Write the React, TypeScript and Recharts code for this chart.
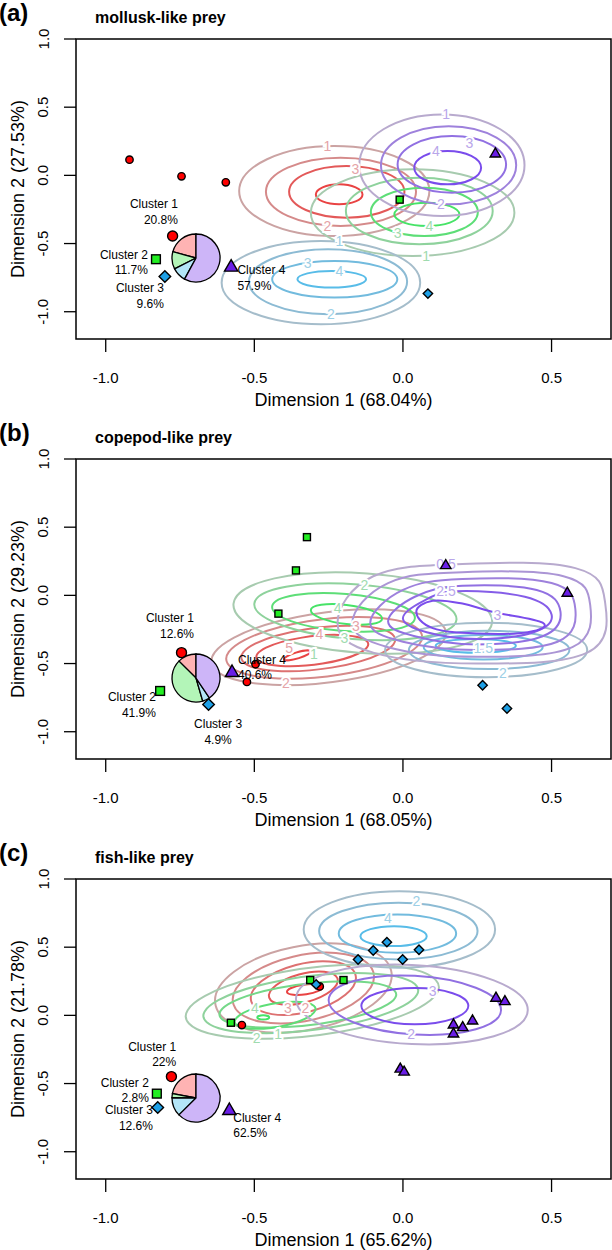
import { ComposedChart, Line, Scatter, XAxis, YAxis, ReferenceArea, PieChart, Pie, Cell } from 'recharts'

type P = [number, number]
type Pt = { x: number; y: number }
type Note = { x: number; y: number; t: string; c: number }
type Tag = { x: number; y: number; a: string }

const xTicks = [-1, -0.5, 0, 0.5]
const yTicks = [-1, -0.5, 0, 0.5, 1]
const clusterNames = ['Cluster 1', 'Cluster 2', 'Cluster 3', 'Cluster 4']

// ---------- (a) mollusk-like prey ----------
const aShare = [20.8, 11.7, 9.6, 57.9]
const aRed: P[][] = [
  [[-0.551, -0.115], [-0.231, 0.215], [0.089, -0.115], [-0.231, -0.445]],
  [[-0.461, -0.12], [-0.21, 0.13], [0.044, -0.12], [-0.21, -0.371]],
  [[-0.383, -0.12], [-0.19, 0.068], [0.005, -0.12], [-0.19, -0.31]],
  [[-0.293, -0.14], [-0.215, -0.066], [-0.136, -0.14], [-0.215, -0.212]],
]
const aGreen: P[][] = [
  [[-0.31, -0.274], [0.033, 0.044], [0.375, -0.274], [0.033, -0.591]],
  [[-0.192, -0.261], [0.055, -0.017], [0.302, -0.261], [0.055, -0.505]],
  [[-0.108, -0.268], [0.072, -0.09], [0.252, -0.268], [0.072, -0.445]],
  [[-0.029, -0.286], [0.081, -0.2], [0.19, -0.286], [0.081, -0.371]],
]
const aBlue: P[][] = [
  [[-0.61, -0.787], [-0.276, -0.481], [0.058, -0.787], [-0.276, -1.092]],
  [[-0.518, -0.78], [-0.252, -0.542], [0.014, -0.78], [-0.252, -1.018]],
  [[-0.44, -0.762], [-0.23, -0.628], [-0.019, -0.762], [-0.23, -0.896]],
  [[-0.355, -0.762], [-0.24, -0.701], [-0.124, -0.762], [-0.24, -0.823]],
]
const aPurple: P[][] = [
  [[-0.147, 0.075], [0.131, 0.447], [0.409, 0.075], [0.131, -0.298]],
  [[-0.074, 0.075], [0.154, 0.361], [0.381, 0.075], [0.154, -0.212]],
  [[-0.018, 0.08], [0.165, 0.288], [0.347, 0.08], [0.165, -0.127]],
  [[0.038, 0.056], [0.15, 0.178], [0.263, 0.056], [0.15, -0.066]],
]
const aNotes: Note[] = [
  { x: -0.254, y: 0.215, t: '1', c: 0 }, { x: -0.16, y: 0.05, t: '3', c: 0 }, { x: -0.254, y: -0.371, t: '2', c: 0 },
  { x: 0.089, y: -0.371, t: '4', c: 1 }, { x: -0.018, y: -0.42, t: '3', c: 1 }, { x: 0.078, y: -0.591, t: '1', c: 1 },
  { x: -0.214, y: -0.481, t: '1', c: 2 }, { x: -0.321, y: -0.64, t: '3', c: 2 }, { x: -0.214, y: -0.701, t: '4', c: 2 }, { x: -0.242, y: -1.018, t: '2', c: 2 },
  { x: 0.145, y: 0.447, t: '1', c: 3 }, { x: 0.224, y: 0.24, t: '3', c: 3 }, { x: 0.111, y: 0.178, t: '4', c: 3 }, { x: 0.128, y: -0.212, t: '2', c: 3 },
]
const aPts: Pt[][] = [
  [{ x: -0.92, y: 0.115 }, { x: -0.745, y: -0.007 }, { x: -0.596, y: -0.051 }],
  [{ x: -0.011, y: -0.178 }],
  [{ x: 0.084, y: -0.867 }],
  [{ x: 0.311, y: 0.161 }],
]
const aMarks: Pt[] = [{ x: -0.775, y: -0.445 }, { x: -0.831, y: -0.615 }, { x: -0.801, y: -0.742 }, { x: -0.578, y: -0.669 }]
const aTags: Tag[] = [
  { x: -0.757, y: -0.212, a: 'end' }, { x: -0.858, y: -0.579, a: 'end' },
  { x: -0.804, y: -0.828, a: 'end' }, { x: -0.557, y: -0.696, a: 'start' },
]

// ---------- (b) copepod-like prey ----------
const bShare = [12.6, 41.9, 4.9, 40.6]
const bRed: P[][] = [
  [[-0.64, -0.52], [-0.31, -0.14], [0.14, -0.24], [-0.19, -0.62]],
  [[-0.59, -0.5], [-0.32, -0.19], [0.06, -0.27], [-0.21, -0.58]],
  [[-0.54, -0.48], [-0.33, -0.25], [-0.03, -0.3], [-0.24, -0.53]],
  [[-0.49, -0.47], [-0.34, -0.31], [-0.12, -0.34], [-0.27, -0.5]],
  [[-0.4, -0.47], [-0.36, -0.42], [-0.31, -0.41], [-0.35, -0.46]],
]
const bGreen: P[][] = [
  [[-0.57, -0.06], [-0.12, 0.16], [0.3, -0.2], [-0.15, -0.42]],
  [[-0.5, -0.06], [-0.15, 0.08], [0.18, -0.18], [-0.17, -0.32]],
  [[-0.44, -0.08], [-0.19, 0.01], [0.04, -0.17], [-0.21, -0.26]],
  [[-0.31, -0.11], [-0.19, -0.07], [-0.07, -0.17], [-0.19, -0.21]],
]
const bBlue: P[][] = [
  [[-0.06, -0.4], [0.28, -0.2], [0.62, -0.4], [0.28, -0.6]],
  [[0.02, -0.4], [0.29, -0.26], [0.56, -0.4], [0.29, -0.54]],
  [[0.07, -0.38], [0.27, -0.29], [0.47, -0.38], [0.27, -0.47]],
  [[0.11, -0.37], [0.245, -0.32], [0.38, -0.37], [0.245, -0.42]],
]
const bPurple: P[][] = [
  [[-0.22, -0.2], [-0.1, 0.14], [0.2, 0.23], [0.58, 0.2], [0.68, -0.05], [0.62, -0.42], [0.25, -0.5], [-0.1, -0.42]],
  [[-0.17, -0.2], [-0.05, 0.09], [0.2, 0.17], [0.54, 0.14], [0.63, -0.07], [0.57, -0.38], [0.25, -0.45], [-0.05, -0.38]],
  [[-0.11, -0.2], [0.0, 0.04], [0.2, 0.12], [0.5, 0.09], [0.58, -0.1], [0.52, -0.34], [0.25, -0.4], [0.0, -0.34]],
  [[-0.05, -0.19], [0.04, -0.01], [0.2, 0.07], [0.45, 0.04], [0.53, -0.12], [0.47, -0.3], [0.25, -0.36], [0.04, -0.3]],
  [[0.0, -0.17], [0.07, -0.04], [0.18, 0.03], [0.41, -0.01], [0.5, -0.14], [0.44, -0.27], [0.25, -0.32], [0.08, -0.27]],
  [[0.045, -0.12], [0.1, -0.04], [0.2, -0.06], [0.3, -0.12], [0.47, -0.2], [0.42, -0.27], [0.25, -0.28], [0.1, -0.24]],
]
const bNotes: Note[] = [
  { x: -0.383, y: -0.383, t: '5', c: 0 }, { x: -0.281, y: -0.286, t: '4', c: 0 }, { x: -0.158, y: -0.225, t: '3', c: 0 }, { x: -0.394, y: -0.64, t: '2', c: 0 },
  { x: -0.13, y: 0.075, t: '2', c: 1 }, { x: -0.22, y: -0.09, t: '4', c: 1 }, { x: -0.197, y: -0.31, t: '3', c: 1 }, { x: -0.3, y: -0.43, t: '1', c: 1 },
  { x: 0.336, y: -0.566, t: '2', c: 2 }, { x: 0.27, y: -0.383, t: '1.5', c: 2 },
  { x: 0.145, y: 0.228, t: '0.5', c: 3 }, { x: 0.145, y: 0.035, t: '2.5', c: 3 }, { x: 0.318, y: -0.145, t: '3', c: 3 },
]
const bPts: Pt[][] = [
  [{ x: -0.496, y: -0.505 }, { x: -0.525, y: -0.635 }],
  [{ x: -0.323, y: 0.427 }, { x: -0.36, y: 0.183 }, { x: -0.419, y: -0.134 }],
  [{ x: 0.268, y: -0.659 }, { x: 0.35, y: -0.83 }],
  [{ x: 0.144, y: 0.222 }, { x: 0.553, y: 0.02 }],
]
const bMarks: Pt[] = [{ x: -0.745, y: -0.42 }, { x: -0.817, y: -0.701 }, { x: -0.654, y: -0.8 }, { x: -0.575, y: -0.562 }]
const bTags: Tag[] = [
  { x: -0.703, y: -0.168, a: 'end' }, { x: -0.831, y: -0.745, a: 'end' },
  { x: -0.622, y: -0.945, a: 'middle' }, { x: -0.555, y: -0.469, a: 'start' },
]

// ---------- (c) fish-like prey ----------
const cShare = [22, 2.8, 12.6, 62.5]
const cRed: P[][] = [
  [[-0.63, 0.07], [-0.37, 0.5], [-0.04, 0.33], [-0.3, -0.1]],
  [[-0.57, 0.08], [-0.37, 0.43], [-0.1, 0.32], [-0.3, -0.03]],
  [[-0.51, 0.1], [-0.36, 0.37], [-0.16, 0.3], [-0.31, 0.03]],
  [[-0.45, 0.13], [-0.35, 0.3], [-0.22, 0.27], [-0.32, 0.1]],
  [[-0.39, 0.17], [-0.335, 0.225], [-0.27, 0.21], [-0.325, 0.155]],
]
const cGreen: P[][] = [
  [[-0.72, -0.06], [-0.4, 0.32], [0.11, 0.26], [-0.21, -0.12]],
  [[-0.66, -0.05], [-0.4, 0.26], [0.04, 0.23], [-0.22, -0.08]],
  [[-0.6, -0.04], [-0.42, 0.2], [-0.04, 0.2], [-0.22, -0.04]],
  [[-0.56, -0.07], [-0.47, 0.07], [-0.3, 0.07], [-0.39, -0.07]],
  [[-0.49, -0.015], [-0.47, 0.0], [-0.45, -0.015], [-0.47, -0.03]],
]
const cBlue: P[][] = [
  [[-0.334, 0.63], [-0.012, 0.911], [0.31, 0.63], [-0.012, 0.349]],
  [[-0.282, 0.618], [-0.015, 0.826], [0.251, 0.618], [-0.015, 0.41]],
  [[-0.216, 0.6], [-0.019, 0.74], [0.179, 0.6], [-0.019, 0.459]],
  [[-0.143, 0.58], [-0.03, 0.654], [0.08, 0.58], [-0.03, 0.508]],
]
const cPurple: P[][] = [
  [[-0.36, 0.12], [0.03, 0.37], [0.42, 0.04], [0.03, -0.21]],
  [[-0.25, 0.11], [0.04, 0.29], [0.33, 0.04], [0.04, -0.14]],
  [[-0.14, 0.07], [0.04, 0.2], [0.22, 0.07], [0.04, -0.066]],
]
const cNotes: Note[] = [
  { x: -0.387, y: 0.056, t: '3', c: 0 }, { x: -0.328, y: 0.056, t: '2', c: 0 },
  { x: -0.498, y: 0.056, t: '4', c: 1 }, { x: -0.492, y: -0.163, t: '2', c: 1 }, { x: -0.42, y: -0.139, t: '1', c: 1 },
  { x: 0.045, y: 0.837, t: '2', c: 2 }, { x: -0.051, y: 0.716, t: '4', c: 2 },
  { x: 0.1, y: 0.178, t: '3', c: 3 }, { x: 0.028, y: -0.139, t: '2', c: 3 },
]
const cPts: Pt[][] = [
  [{ x: -0.542, y: -0.071 }, { x: -0.28, y: 0.212 }],
  [{ x: -0.312, y: 0.259 }, { x: -0.2, y: 0.259 }, { x: -0.579, y: -0.054 }],
  [{ x: -0.054, y: 0.537 }, { x: -0.1, y: 0.476 }, { x: 0.054, y: 0.481 }, { x: -0.151, y: 0.41 }, { x: -0.001, y: 0.41 }, { x: -0.292, y: 0.227 }],
  [{ x: 0.313, y: 0.13 }, { x: 0.343, y: 0.105 }, { x: 0.234, y: -0.037 }, { x: 0.17, y: -0.066 }, { x: 0.201, y: -0.086 }, { x: 0.17, y: -0.132 }, { x: -0.009, y: -0.39 }, { x: 0.004, y: -0.412 }],
]
const cMarks: Pt[] = [{ x: -0.779, y: -0.449 }, { x: -0.828, y: -0.574 }, { x: -0.825, y: -0.676 }, { x: -0.584, y: -0.694 }]
const cTags: Tag[] = [
  { x: -0.763, y: -0.229, a: 'end' }, { x: -0.855, y: -0.493, a: 'end' },
  { x: -0.841, y: -0.694, a: 'end' }, { x: -0.571, y: -0.749, a: 'start' },
]

// ---------- styling ----------
const fills = ['#FF0000', '#22EE22', '#1EA0E6', '#6A1EE6']
const pieFills = ['#FFB3B3', '#B3F5B8', '#B3E5F7', '#CDB5F8']
const ramps = [
  ['#CBA3A3', '#D58A8A', '#DD7171', '#E35959', '#E94343'],
  ['#A7CBAF', '#8ED29C', '#75D889', '#5DDE77', '#47E367'],
  ['#A5BDCB', '#8CBBD4', '#72BBDE', '#58BCE8'],
  ['#B8AACE', '#AB95D5', '#9E81DC', '#9170E2', '#855DE8', '#7A4CEC'],
]
const noteColors = ['#E5A3A8', '#9FDBAF', '#9CCFE6', '#B9A6EA']
const FONT = '"Liberation Sans", Arial, Helvetica, sans-serif'

const pick = (c: number, i: number, n: number) => {
  const r = ramps[c]
  return r[n === 1 ? r.length - 1 : Math.round((i * (r.length - 1)) / (n - 1))]
}

// closed smooth curve through the given vertices (catmull-rom style)
const closedCurve = (ctx: any) => {
  let pts: number[][] = []
  return {
    areaStart() {},
    areaEnd() {},
    lineStart() { pts = [] },
    point(x: number, y: number) { pts.push([+x, +y]) },
    lineEnd() {
      const n = pts.length
      if (n < 3) return
      const k = ((4 / 3) * Math.tan(Math.PI / (2 * n))) / (2 * Math.sin((2 * Math.PI) / n))
      ctx.moveTo(pts[0][0], pts[0][1])
      for (let i = 0; i < n; i++) {
        const p0 = pts[(i - 1 + n) % n], p1 = pts[i], p2 = pts[(i + 1) % n], p3 = pts[(i + 2) % n]
        ctx.bezierCurveTo(
          p1[0] + (p2[0] - p0[0]) * k, p1[1] + (p2[1] - p0[1]) * k,
          p2[0] - (p3[0] - p1[0]) * k, p2[1] - (p3[1] - p1[1]) * k,
          p2[0], p2[1],
        )
      }
      ctx.closePath()
    },
  }
}

const XTick = (p: any) => (
  <text x={p.x} y={p.y + 25} textAnchor="middle" dominantBaseline="central" fontSize={15} fill="#000">
    {Number(p.payload.value).toFixed(1)}
  </text>
)
const YTick = (p: any) => {
  const cx = p.x - 21
  return (
    <text x={cx} y={p.y} transform={`rotate(-90 ${cx} ${p.y})`} textAnchor="middle" dominantBaseline="central" fontSize={15} fill="#000">
      {Number(p.payload.value).toFixed(1)}
    </text>
  )
}

const mark = (k: number, big: boolean) => (p: any) => {
  const { cx, cy } = p
  const st = { fill: fills[k], stroke: '#000', strokeWidth: 1.4 }
  if (k === 0) return <circle cx={cx} cy={cy} r={big ? 5 : 3.7} {...st} />
  if (k === 1) {
    const h = big ? 4.4 : 3.5
    return <rect x={cx - h} y={cy - h} width={2 * h} height={2 * h} {...st} />
  }
  if (k === 2) {
    const h = big ? 5.8 : 4.7
    return <polygon points={`${cx},${cy - h} ${cx + h},${cy} ${cx},${cy + h} ${cx - h},${cy}`} {...st} />
  }
  const h = big ? 7 : 5.5
  return <polygon points={`${cx},${cy - h} ${cx + h * 0.95},${cy + h * 0.65} ${cx - h * 0.95},${cy + h * 0.65}`} {...st} />
}

const NoteShape = (p: any) => (
  <text x={p.cx} y={p.cy} textAnchor="middle" dominantBaseline="central" fontSize={14}
    fill={noteColors[p.payload.c]} stroke="#fff" strokeWidth={4} paintOrder="stroke">
    {p.payload.t}
  </text>
)

const TagShape = (p: any) => (
  <text x={p.cx} y={p.cy} textAnchor={p.payload.a} fontSize={12} fill="#000">
    <tspan x={p.cx} dy="0.35em">{p.payload.l1}</tspan>
    <tspan x={p.cx} dy={15.5}>{p.payload.l2}</tspan>
  </text>
)

type PanelDef = {
  tag: string
  title: string
  xTitle: string
  yTitle: string
  share: number[]
  sets: P[][][]
  notes: Note[]
  pts: Pt[][]
  marks: Pt[]
  tags: Tag[]
}

const panels: PanelDef[] = [
  { tag: '(a)', title: 'mollusk-like prey', xTitle: 'Dimension 1 (68.04%)', yTitle: 'Dimension 2 (27.53%)', share: aShare, sets: [aRed, aGreen, aBlue, aPurple], notes: aNotes, pts: aPts, marks: aMarks, tags: aTags },
  { tag: '(b)', title: 'copepod-like prey', xTitle: 'Dimension 1 (68.05%)', yTitle: 'Dimension 2 (29.23%)', share: bShare, sets: [bRed, bGreen, bBlue, bPurple], notes: bNotes, pts: bPts, marks: bMarks, tags: bTags },
  { tag: '(c)', title: 'fish-like prey', xTitle: 'Dimension 1 (65.62%)', yTitle: 'Dimension 2 (21.78%)', share: cShare, sets: [cRed, cGreen, cBlue, cPurple], notes: cNotes, pts: cPts, marks: cMarks, tags: cTags },
]

const Panel = ({ d, top }: { d: PanelDef; top: number }) => {
  const tagData = d.tags.map((t, i) => ({ ...t, l1: clusterNames[i], l2: `${d.share[i]}%` }))
  const pieData = d.share.map((v, i) => ({ name: clusterNames[i], v }))
  return (
    <div style={{ position: 'absolute', left: 0, top, width: 612, height: 420 }}>
      <ComposedChart width={612} height={420} margin={{ top: 39, right: 1, bottom: 0, left: 0 }}>
        <XAxis type="number" dataKey="x" domain={[-1.1, 0.7]} ticks={xTicks} interval={0} allowDataOverflow
          height={81} tickSize={13} tickMargin={0} axisLine={false} tickLine={{ stroke: '#000', strokeWidth: 1.3 }} tick={XTick}
          label={{ value: d.xTitle, position: 'insideBottom', offset: 14, fontSize: 18, fill: '#000' }} />
        <YAxis type="number" dataKey="y" domain={[-1.2, 1]} ticks={yTicks} interval={0} allowDataOverflow
          width={76} tickSize={12} tickMargin={0} axisLine={false} tickLine={{ stroke: '#000', strokeWidth: 1.3 }} tick={YTick}
          label={{ value: d.yTitle, angle: -90, position: 'insideLeft', offset: 18, fontSize: 18, fill: '#000', style: { textAnchor: 'middle' } }} />
        {d.sets.map((levels, c) =>
          levels.map((lv, i) => (
            <Line key={`c${c}-${i}`} data={lv.map(([x, y]) => ({ x, y }))} dataKey="y" type={closedCurve as any}
              stroke={pick(c, i, levels.length)} strokeWidth={2} dot={false} activeDot={false}
              isAnimationActive={false} legendType="none" />
          )),
        )}
        <Scatter data={d.notes} dataKey="y" shape={NoteShape} isAnimationActive={false} />
        {d.pts.map((s, k) => (
          <Scatter key={`p${k}`} data={s} dataKey="y" shape={mark(k, false)} isAnimationActive={false} />
        ))}
        {d.marks.map((m, k) => (
          <Scatter key={`m${k}`} data={[m]} dataKey="y" shape={mark(k, true)} isAnimationActive={false} />
        ))}
        <Scatter data={tagData} dataKey="y" shape={TagShape} isAnimationActive={false} />
        <ReferenceArea x1={-1.1} x2={0.7} y1={-1.2} y2={1} fill="none" stroke="#000" strokeWidth={1.5} ifOverflow="visible" />
      </ComposedChart>
      <div style={{ position: 'absolute', left: -1, top: 0, fontSize: 24, fontWeight: 'bold', lineHeight: '26px' }}>{d.tag}</div>
      <div style={{ position: 'absolute', left: 95, top: 9, fontSize: 16, fontWeight: 'bold', lineHeight: '18px' }}>{d.title}</div>
      <div style={{ position: 'absolute', left: 166, top: 228 }}>
        <PieChart width={60} height={60} margin={{ top: 0, right: 0, bottom: 0, left: 0 }}>
          <Pie data={pieData} dataKey="v" cx={30} cy={30} outerRadius={24} startAngle={90} endAngle={450}
            stroke="#000" strokeWidth={1.3} isAnimationActive={false}>
            {pieData.map((e, i) => <Cell key={e.name} fill={pieFills[i]} />)}
          </Pie>
        </PieChart>
      </div>
    </div>
  )
}

export default function App() {
  return (
    <div style={{ position: 'absolute', left: 0, top: 0, width: 612, height: 1250, overflow: 'hidden', background: '#fff', fontFamily: FONT }}>
      {panels.map((d, i) => <Panel key={d.tag} d={d} top={i * 420} />)}
    </div>
  )
}
